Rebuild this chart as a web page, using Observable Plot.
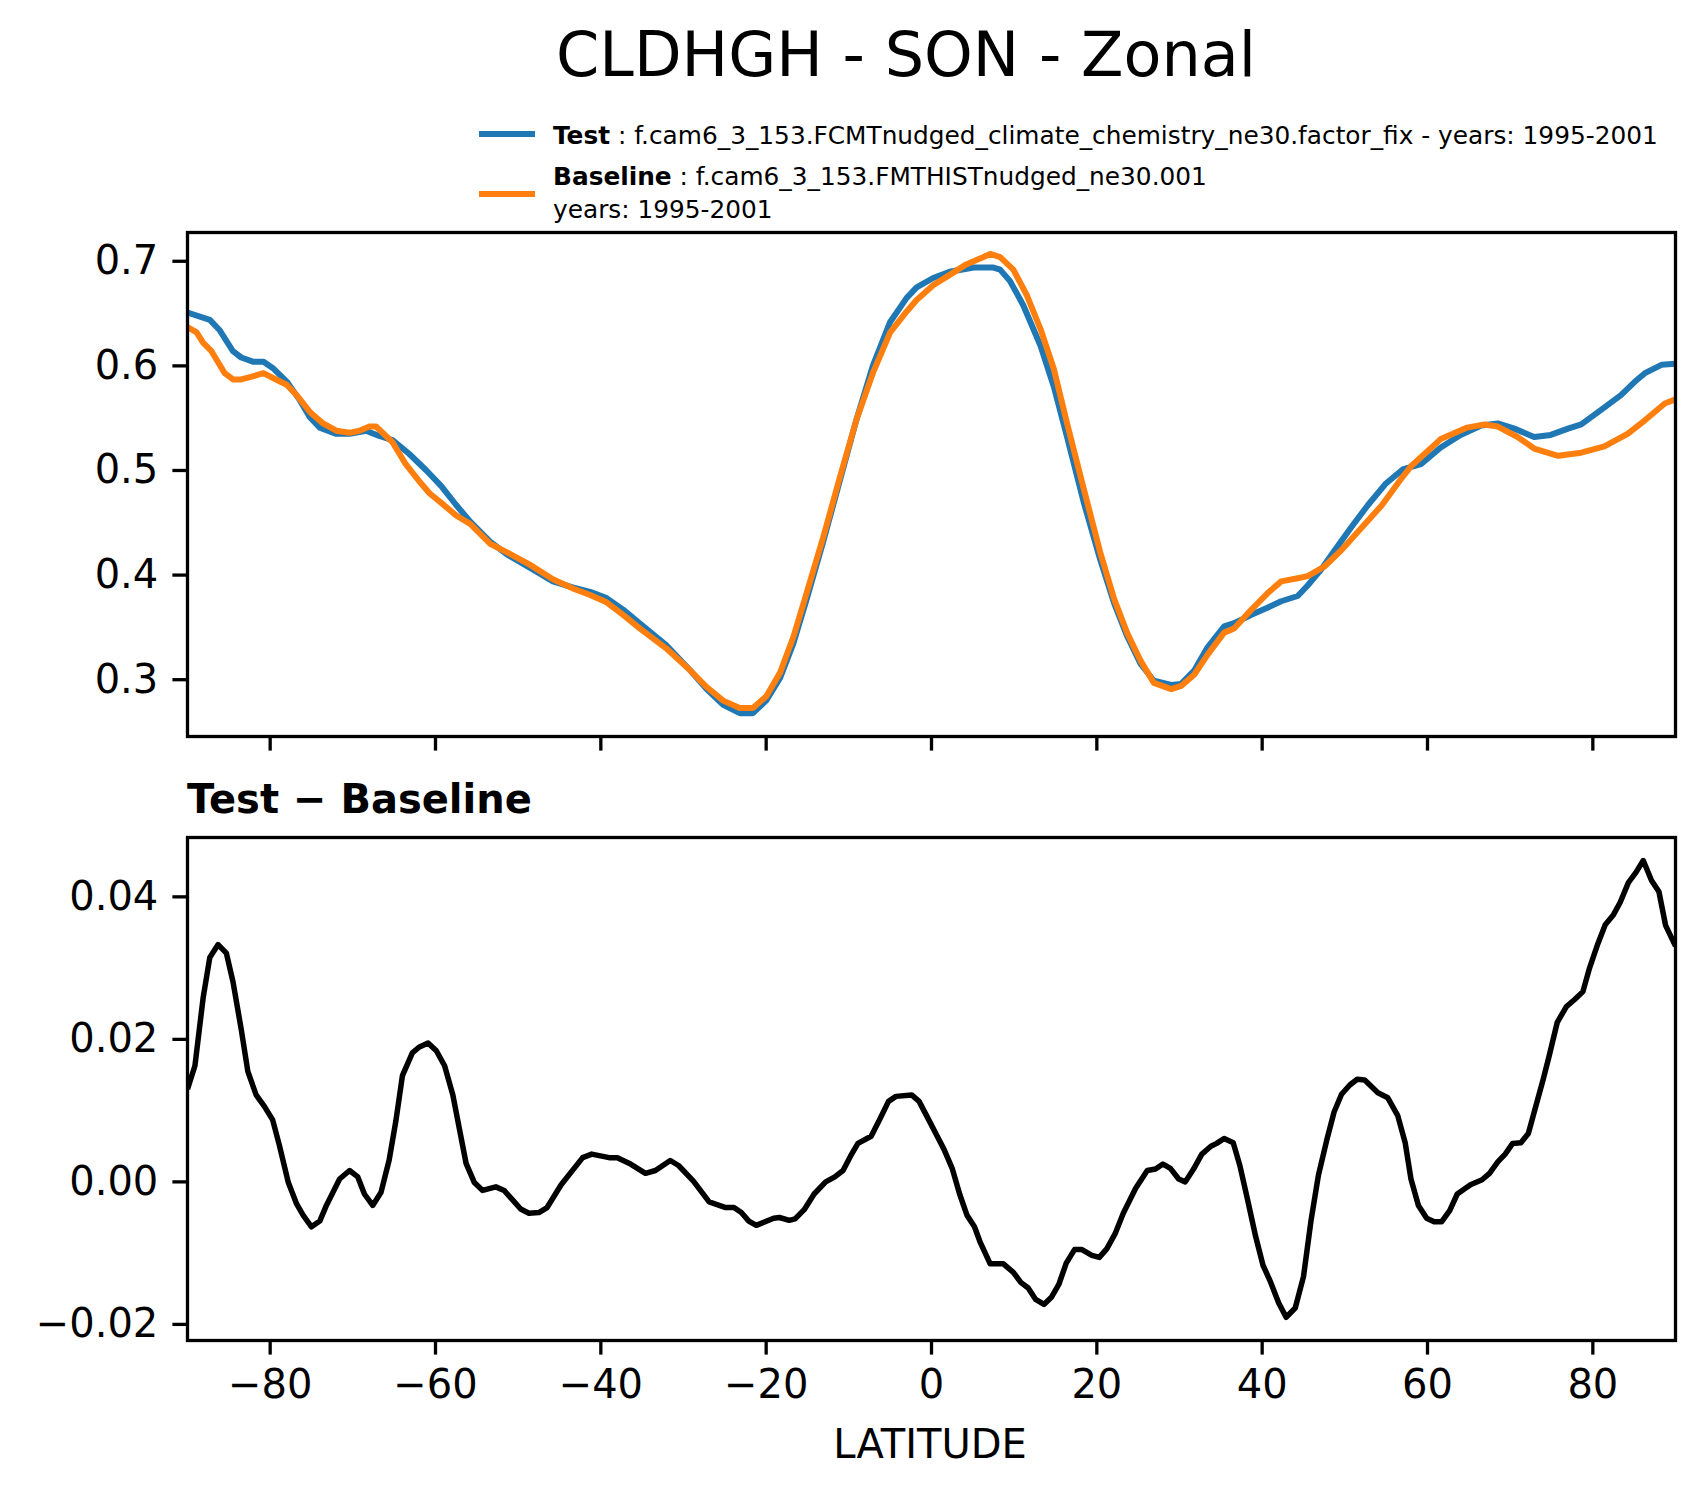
<!DOCTYPE html>
<html>
<head>
<meta charset="utf-8">
<script src="https://cdn.jsdelivr.net/npm/d3@7"></script>
<script src="https://cdn.jsdelivr.net/npm/@observablehq/plot@0.6"></script>
<style>
html, body { margin: 0; padding: 0; background: #fff; }
#fig { position: relative; width: 1704px; height: 1496px; overflow: hidden; font-family: "DejaVu Sans", sans-serif; color: #000; background: #fff; }
.abs { position: absolute; white-space: nowrap; line-height: 1; }
.plotbox { position: absolute; left: 0; }
.plotbox svg { display: block; }
.legline { position: absolute; height: 6px; width: 56px; }
.leg { font-size: 24.8px; }
</style>
</head>
<body>
<div id="fig">
  <div class="abs" id="title" style="font-size:62px; left:906px; top:24px; transform:translateX(-50%);">CLDHGH - SON - Zonal</div>
  <div class="legline" style="left:479px; top:131px; background:#1f77b4;"></div>
  <div class="abs leg" style="left:553px; top:124px;"><b>Test</b> : f.cam6_3_153.FCMTnudged_climate_chemistry_ne30.factor_fix - years: 1995-2001</div>
  <div class="legline" style="left:479px; top:191px; background:#ff7f0e;"></div>
  <div class="abs leg" style="left:553px; top:165px;"><b>Baseline</b> : f.cam6_3_153.FMTHISTnudged_ne30.001</div>
  <div class="abs leg" style="left:553px; top:198px;">years: 1995-2001</div>
  <div id="topPlot" class="plotbox" style="top:200px;"></div>
  <div class="abs" style="font-size:40px; font-weight:bold; left:187px; top:779px;">Test − Baseline</div>
  <div id="botPlot" class="plotbox" style="top:810px;"></div>
  <div class="abs" style="font-size:40px; left:930px; top:1424px; transform:translateX(-50%);">LATITUDE</div>
</div>
<script>
// ---- data ----
const testLat = [-90,-87.3,-86.1,-84.5,-83.5,-82.1,-80.8,-79.7,-78.0,-76.4,-75.2,-74.0,-72.0,-70.4,-68.4,-66.8,-65.2,-63.2,-61.1,-59.3,-57.5,-55.8,-53.4,-51.4,-48.6,-45.8,-43.3,-41.3,-39.3,-37.3,-35.3,-32.1,-29.2,-27.2,-25.2,-23.2,-21.6,-20.0,-18.3,-16.7,-15.1,-13.1,-11.1,-9.1,-7.1,-5.0,-3.0,-1.8,0.2,2.2,5.1,7.5,8.3,9.5,11.1,13.2,14.8,16.4,18.4,20.4,22.1,23.7,25.3,26.9,29.0,30.2,31.8,33.4,35.4,36.6,38.7,40.7,42.3,44.3,45.5,47.2,48.8,50.8,52.8,54.9,57.0,59.2,61.6,64.0,66.5,68.5,70.5,72.9,74.9,77.0,78.6,81.0,83.4,85.1,86.3,88.3,90];
const testVal = [0.651,0.644,0.634,0.614,0.608,0.604,0.604,0.598,0.585,0.567,0.551,0.541,0.535,0.535,0.538,0.533,0.529,0.516,0.500,0.485,0.467,0.451,0.432,0.420,0.407,0.394,0.388,0.384,0.378,0.367,0.354,0.333,0.309,0.291,0.276,0.268,0.268,0.280,0.302,0.335,0.377,0.432,0.490,0.548,0.600,0.642,0.665,0.675,0.684,0.690,0.694,0.694,0.692,0.681,0.658,0.619,0.580,0.532,0.470,0.415,0.373,0.341,0.315,0.299,0.295,0.296,0.309,0.331,0.351,0.354,0.362,0.369,0.375,0.380,0.390,0.406,0.424,0.446,0.467,0.487,0.501,0.506,0.522,0.534,0.543,0.545,0.540,0.532,0.534,0.540,0.544,0.558,0.572,0.585,0.593,0.601,0.602];

const baseLat = [-90,-88.9,-88.1,-87.1,-85.5,-84.5,-83.5,-82.1,-80.8,-79.3,-78.0,-76.8,-75.2,-73.6,-72.0,-70.4,-69.2,-68.0,-67.2,-65.2,-63.6,-62.0,-60.7,-59.3,-57.5,-55.8,-53.4,-51.4,-48.6,-45.8,-43.3,-41.3,-39.3,-37.3,-35.3,-32.1,-29.2,-27.2,-25.2,-23.2,-21.6,-20.0,-18.3,-16.7,-15.1,-13.1,-11.1,-9.1,-7.1,-5.0,-3.0,-1.8,0.2,2.2,4.2,6.3,7.1,8.3,9.9,11.5,13.2,14.8,16.4,18.4,20.4,22.1,23.7,25.3,26.9,29.0,30.2,31.8,33.4,35.4,36.6,38.7,40.7,42.3,44.3,45.5,47.5,49.6,52.0,54.5,56.9,58.0,61.6,64.8,66.9,68.5,70.9,72.9,75.8,78.6,81.4,84.2,86.3,88.7,90];
const baseVal = [0.637,0.632,0.622,0.614,0.593,0.587,0.587,0.590,0.593,0.587,0.582,0.572,0.556,0.545,0.538,0.536,0.538,0.542,0.542,0.527,0.506,0.490,0.478,0.469,0.457,0.449,0.430,0.422,0.410,0.396,0.387,0.381,0.374,0.362,0.349,0.330,0.309,0.293,0.280,0.273,0.273,0.284,0.307,0.341,0.383,0.436,0.493,0.548,0.593,0.632,0.652,0.663,0.677,0.687,0.697,0.704,0.707,0.704,0.692,0.668,0.635,0.597,0.545,0.483,0.422,0.377,0.344,0.318,0.297,0.291,0.294,0.305,0.324,0.345,0.349,0.367,0.383,0.394,0.397,0.399,0.408,0.424,0.445,0.467,0.493,0.504,0.530,0.541,0.544,0.542,0.532,0.521,0.514,0.517,0.523,0.535,0.548,0.564,0.568];

const diffLat = [-90.0,-89.1,-88.1,-87.3,-86.3,-85.3,-84.5,-83.5,-82.7,-81.7,-80.7,-79.7,-78.9,-77.8,-76.8,-76.0,-75.0,-74.0,-73.2,-71.6,-70.4,-69.4,-68.6,-67.6,-66.6,-65.6,-64.8,-64.0,-62.8,-62.0,-60.9,-59.9,-58.9,-57.9,-57.1,-56.3,-55.3,-54.3,-52.7,-51.7,-50.7,-49.7,-48.7,-47.5,-46.5,-44.8,-42.2,-41.1,-39.0,-38.0,-36.4,-34.6,-33.4,-31.6,-30.6,-28.8,-26.9,-24.9,-23.9,-23.0,-22.1,-21.2,-19.1,-18.4,-17.2,-16.5,-15.4,-14.2,-12.8,-11.7,-10.7,-9.8,-8.9,-7.3,-6.3,-5.2,-4.3,-2.4,-1.5,-0.6,0.6,1.5,2.5,3.4,4.3,5.2,5.9,7.1,8.7,9.9,10.8,11.7,12.6,13.6,14.5,15.4,16.3,17.3,18.2,19.4,20.3,21.2,22.2,23.2,24.7,26.1,27.1,28.0,28.9,29.9,30.7,31.7,32.7,33.8,34.5,35.4,36.5,37.3,38.2,39.2,40.1,41.0,42.0,42.9,44.0,45.0,45.9,46.8,47.8,48.7,49.6,50.6,51.5,52.4,54.0,55.2,56.4,57.3,58.0,58.9,59.9,60.8,61.7,62.7,63.6,65.2,66.6,67.5,68.5,69.4,70.3,71.3,72.2,73.1,74.0,74.7,75.7,76.8,77.8,78.8,79.6,80.6,81.5,82.5,83.3,84.3,85.2,86.1,87.1,88.0,88.8,90.0];
const diffVal = [0.0130,0.0163,0.0259,0.0315,0.0333,0.0321,0.0281,0.0214,0.0155,0.0122,0.0106,0.0087,0.0052,-0.0001,-0.0031,-0.0047,-0.0063,-0.0055,-0.0033,0.0004,0.0016,0.0007,-0.0017,-0.0033,-0.0015,0.0031,0.0085,0.0149,0.0181,0.0189,0.0195,0.0184,0.0163,0.0122,0.0074,0.0026,-0.0001,-0.0012,-0.0007,-0.0012,-0.0025,-0.0038,-0.0044,-0.0043,-0.0036,-0.0004,0.0034,0.0039,0.0034,0.0034,0.0025,0.0012,0.0016,0.0030,0.0023,0.0001,-0.0028,-0.0036,-0.0036,-0.0043,-0.0055,-0.0061,-0.0051,-0.0050,-0.0054,-0.0052,-0.0039,-0.0017,0.0000,0.0007,0.0016,0.0036,0.0054,0.0064,0.0087,0.0113,0.0120,0.0122,0.0113,0.0093,0.0066,0.0046,0.0019,-0.0017,-0.0047,-0.0063,-0.0085,-0.0115,-0.0115,-0.0127,-0.0141,-0.0149,-0.0165,-0.0172,-0.0162,-0.0144,-0.0114,-0.0095,-0.0095,-0.0103,-0.0106,-0.0094,-0.0073,-0.0044,-0.0009,0.0016,0.0018,0.0025,0.0019,0.0004,0.0000,0.0018,0.0039,0.0050,0.0054,0.0061,0.0055,0.0023,-0.0023,-0.0076,-0.0117,-0.0140,-0.0170,-0.0190,-0.0177,-0.0133,-0.0055,0.0009,0.0058,0.0098,0.0123,0.0136,0.0144,0.0143,0.0125,0.0118,0.0093,0.0055,0.0004,-0.0033,-0.0051,-0.0056,-0.0056,-0.0040,-0.0017,-0.0004,0.0003,0.0012,0.0028,0.0039,0.0054,0.0055,0.0068,0.0106,0.0144,0.0176,0.0224,0.0246,0.0256,0.0267,0.0300,0.0334,0.0361,0.0375,0.0392,0.0420,0.0434,0.0451,0.0423,0.0407,0.0360,0.0331];

const latTicks = [-80,-60,-40,-20,0,20,40,60,80];
const topYTicks = [0.3,0.4,0.5,0.6,0.7];
const botYTicks = [-0.02,0.00,0.02,0.04];
const latDomain = [-90, 90];
const topYDomain = [0.2457, 0.7275];
const botYDomain = [-0.02226, 0.04833];

// ---- build ----
const rows = (lat, val) => lat.map((l, i) => ({lat: l, val: val[i]}));
const testRows = rows(testLat, testVal);
const baseRows = rows(baseLat, baseVal);
const diffRows = rows(diffLat, diffVal);

const W = 1704, ML = 187, MR = 29;
const TS = 14.6, SW = 3.3;
const common = {
  width: W, marginLeft: ML, marginRight: MR,
  style: {fontFamily: "DejaVu Sans", fontSize: "40px", background: "transparent", color: "black", overflow: "visible"}
};

const topChart = Plot.plot({
  ...common,
  height: 600, marginTop: 32, marginBottom: 64,
  x: {domain: latDomain},
  y: {domain: topYDomain},
  marks: [
    Plot.line(testRows, {x: "lat", y: "val", stroke: "#1f77b4", strokeWidth: 6, clip: true, strokeLinejoin: "round", strokeLinecap: "butt"}),
    Plot.line(baseRows, {x: "lat", y: "val", stroke: "#ff7f0e", strokeWidth: 6, clip: true, strokeLinejoin: "round", strokeLinecap: "butt"}),
    Plot.frame({stroke: "black", strokeWidth: SW}),
    Plot.axisY({ticks: topYTicks, tickSize: TS, tickPadding: 14.6, tickFormat: d3.format(".1f"), strokeWidth: SW, fontSize: 40, label: null}),
    Plot.axisX({ticks: latTicks, tickSize: TS, tickFormat: () => "", strokeWidth: SW, label: null})
  ]
});
document.getElementById("topPlot").appendChild(topChart);

const botChart = Plot.plot({
  ...common,
  height: 686, marginTop: 27, marginBottom: 156,
  x: {domain: latDomain},
  y: {domain: botYDomain},
  marks: [
    Plot.line(diffRows, {x: "lat", y: "val", stroke: "black", strokeWidth: 5.5, clip: true, strokeLinejoin: "round", strokeLinecap: "butt"}),
    Plot.frame({stroke: "black", strokeWidth: SW}),
    Plot.axisY({ticks: botYTicks, tickSize: TS, tickPadding: 14.6, tickFormat: d3.format(".2f"), strokeWidth: SW, fontSize: 40, label: null}),
    Plot.axisX({ticks: latTicks, tickSize: TS, tickPadding: 14.6, tickFormat: d3.format("d"), strokeWidth: SW, fontSize: 40, label: null})
  ]
});
document.getElementById("botPlot").appendChild(botChart);
</script>
</body>
</html>
